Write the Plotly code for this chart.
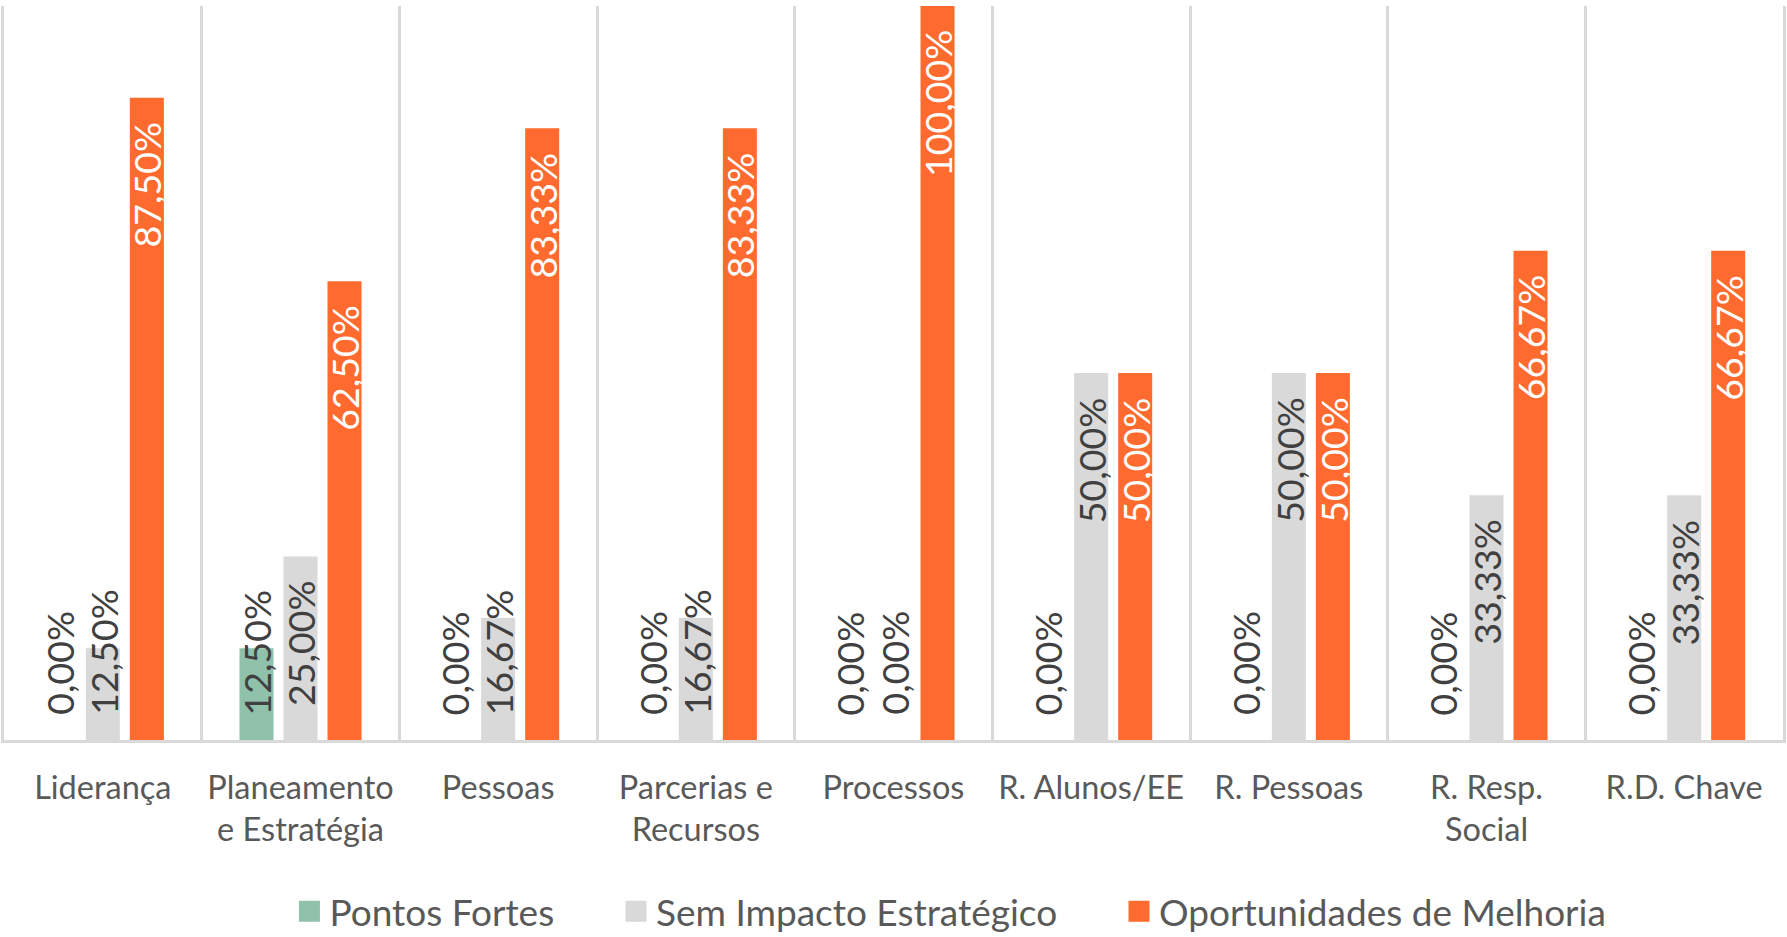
import plotly.graph_objects as go

categories = ["Liderança", "Planeamento<br>e Estratégia", "Pessoas", "Parcerias e<br>Recursos",
              "Processos", "R. Alunos/EE", "R. Pessoas", "R. Resp.<br>Social", "R.D. Chave"]
pontos_fortes = [0.0, 0.125, 0.0, 0.0, 0.0, 0.0, 0.0, 0.0, 0.0]
sem_impacto = [0.125, 0.25, 0.1667, 0.1667, 0.0, 0.5, 0.5, 0.3333, 0.3333]
oportunidades = [0.875, 0.625, 0.8333, 0.8333, 1.0, 0.5, 0.5, 0.6667, 0.6667]
series_names = ["Pontos Fortes", "Sem Impacto Estratégico", "Oportunidades de Melhoria"]
series_values = [pontos_fortes, sem_impacto, oportunidades]
colors = ["#8FC1AB", "#D9D9D9", "#FF6B2F"]
label_colors = ["#404040", "#404040", "#FFFFFF"]

FONT = "Lato"
W, H = 1787, 937
M_L, M_R, M_T, M_B = 4, 4, 6, 197
plot_h = H - M_T - M_B
BARGAP = 0.332
slot = (1 - BARGAP) / 3
LABEL_SIZE = 37.5
TOP_PAD, BASE_PAD = 22, 23

def fmt(v):
    return f"{v*100:.2f}".replace(".", ",") + "%"

fig = go.Figure()
x_idx = list(range(len(categories)))
n_series = len(series_names)
for k, (name, vals, col) in enumerate(zip(series_names, series_values, colors)):
    fig.add_trace(go.Bar(x=x_idx, y=vals, name=name, marker=dict(color=col, line=dict(width=0)),
                         showlegend=False, hoverinfo="skip"))
    pad = "\u00a0" * 6 if k < n_series - 1 else ""
    fig.add_trace(go.Scatter(x=[None], y=[None], mode="markers", name=name + pad,
                             marker=dict(symbol="square", size=16, color=col, line=dict(color=col, width=5)),
                             showlegend=True))

annotations = []
for j, (vals, lc) in enumerate(zip(series_values, label_colors)):
    for i, v in enumerate(vals):
        txt = fmt(v)
        est_len = LABEL_SIZE * (0.55 * len(txt) + 0.1)
        bar_px = v * plot_h
        if bar_px - TOP_PAD - est_len >= BASE_PAD:
            y, ya, ys = v, "top", -TOP_PAD
        else:
            y, ya, ys = 0, "bottom", BASE_PAD
        annotations.append(dict(x=i + (j - 1) * slot, y=y, xref="x", yref="y", text=txt,
                                textangle=-90, showarrow=False, yanchor=ya, xanchor="center",
                                yshift=ys, font=dict(family=FONT, size=LABEL_SIZE, color=lc)))

fig.update_layout(
    width=W, height=H,
    margin=dict(l=M_L, r=M_R, t=M_T, b=M_B, autoexpand=False),
    paper_bgcolor="white", plot_bgcolor="white",
    barmode="group", bargap=BARGAP, bargroupgap=0.227,
    font=dict(family=FONT, color="#595959"),
    annotations=annotations,
    legend=dict(orientation="h", x=0.532, xanchor="center", y=-0.234, yanchor="middle",
                font=dict(family=FONT, size=37, color="#595959"), itemwidth=30),
    xaxis=dict(tickmode="array", tickvals=x_idx, ticktext=categories, range=[-0.5, 8.5],
               showgrid=False, showline=True, linecolor="#D9D9D9", linewidth=3,
               ticks="", tickfont=dict(family=FONT, size=32.5, color="#595959"),
               ticklabelstandoff=17, zeroline=False, fixedrange=True, automargin=False),
    yaxis=dict(range=[0, 1], showticklabels=False, showgrid=False, zeroline=False,
               showline=True, mirror=True, linecolor="#D9D9D9", linewidth=3, ticks="",
               fixedrange=True, automargin=False),
)
fig.update_xaxes(minor=dict(tickmode="array", tickvals=[k + 0.5 for k in range(len(categories) - 1)],
                            showgrid=True, gridcolor="#D9D9D9", gridwidth=3, ticks=""))

fig.write_html("out.html", config={"displayModeBar": False},
               post_script="document.body.style.margin='0';document.body.style.overflow='hidden';")
